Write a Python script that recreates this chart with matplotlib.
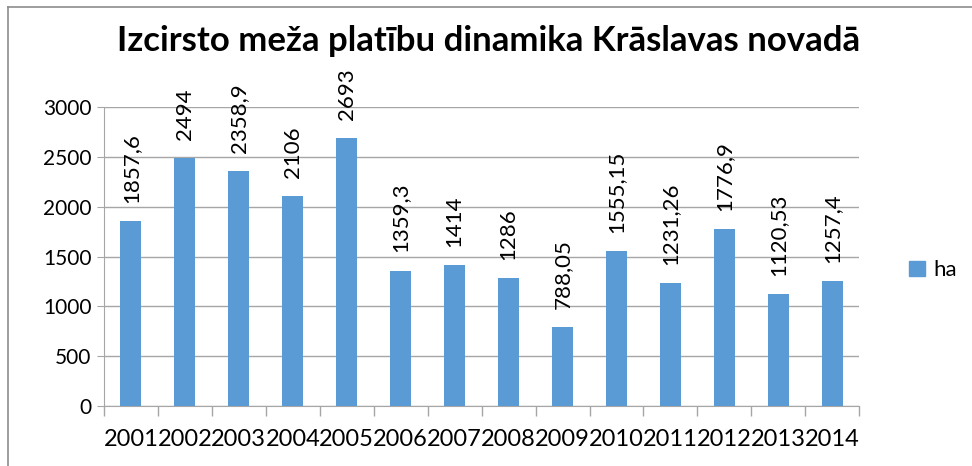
import matplotlib.pyplot as plt
from matplotlib.lines import Line2D
from matplotlib.patches import Patch

plt.rcParams['font.family'] = ['Lato', 'DejaVu Sans']

# data
years = ['2001', '2002', '2003', '2004', '2005', '2006', '2007',
         '2008', '2009', '2010', '2011', '2012', '2013', '2014']
ha = [1857.6, 2494, 2358.9, 2106, 2693, 1359.3, 1414,
      1286, 788.05, 1555.15, 1231.26, 1776.9, 1120.53, 1257.4]
labels = ['1857,6', '2494', '2358,9', '2106', '2693', '1359,3', '1414',
          '1286', '788,05', '1555,15', '1231,26', '1776,9', '1120,53', '1257,4']

bar_color = '#5b9bd5'
grid_color = '#a6a6a6'

fig = plt.figure(figsize=(9.72, 4.66), dpi=100)
ax = fig.add_axes([0.107, 0.129, 0.777, 0.641])

x = range(len(years))
bars = ax.bar(x, ha, width=0.39, color=bar_color, zorder=3, label='ha')

ax.bar_label(bars, labels=labels, rotation=90, padding=13, fontsize=16)

ax.set_xlim(-0.5, len(years) - 0.5)
ax.set_ylim(0, 3000)
ax.set_yticks(range(0, 3001, 500))
ax.tick_params(axis='y', labelsize=15, length=5, color=grid_color, pad=4)
ax.set_xticks(list(x))
ax.set_xticklabels(years)
ax.tick_params(axis='x', which='major', length=0, labelsize=17, pad=17)
ax.set_xticks([i - 0.5 for i in range(len(years) + 1)], minor=True)
ax.tick_params(axis='x', which='minor', length=7, color=grid_color, width=1)

ax.grid(axis='y', color=grid_color, linewidth=1, zorder=0)
for s in ['top', 'right']:
    ax.spines[s].set_visible(False)
for s in ['left', 'bottom']:
    ax.spines[s].set_color(grid_color)

fig.text(0.503, 0.912, 'Izcirsto meža platību dinamika Krāslavas novadā',
         ha='center', va='center', fontsize=25, fontweight='bold')

ax.legend(handles=[Patch(color=bar_color, label='ha')], loc='center left',
          bbox_to_anchor=(0.915, 0.42), bbox_transform=fig.transFigure,
          frameon=False, fontsize=16, handlelength=0.7, handleheight=0.7,
          handletextpad=0.4)

# chart border (only top and left edges visible in the crop)
fig.add_artist(Line2D([0.0085, 0.0085], [0, 0.985], transform=fig.transFigure,
                      color='#8c8c8c', linewidth=1.2))
fig.add_artist(Line2D([0.0085, 1], [0.985, 0.985], transform=fig.transFigure,
                      color='#8c8c8c', linewidth=1.2))

fig.savefig('out.png', dpi=100)
